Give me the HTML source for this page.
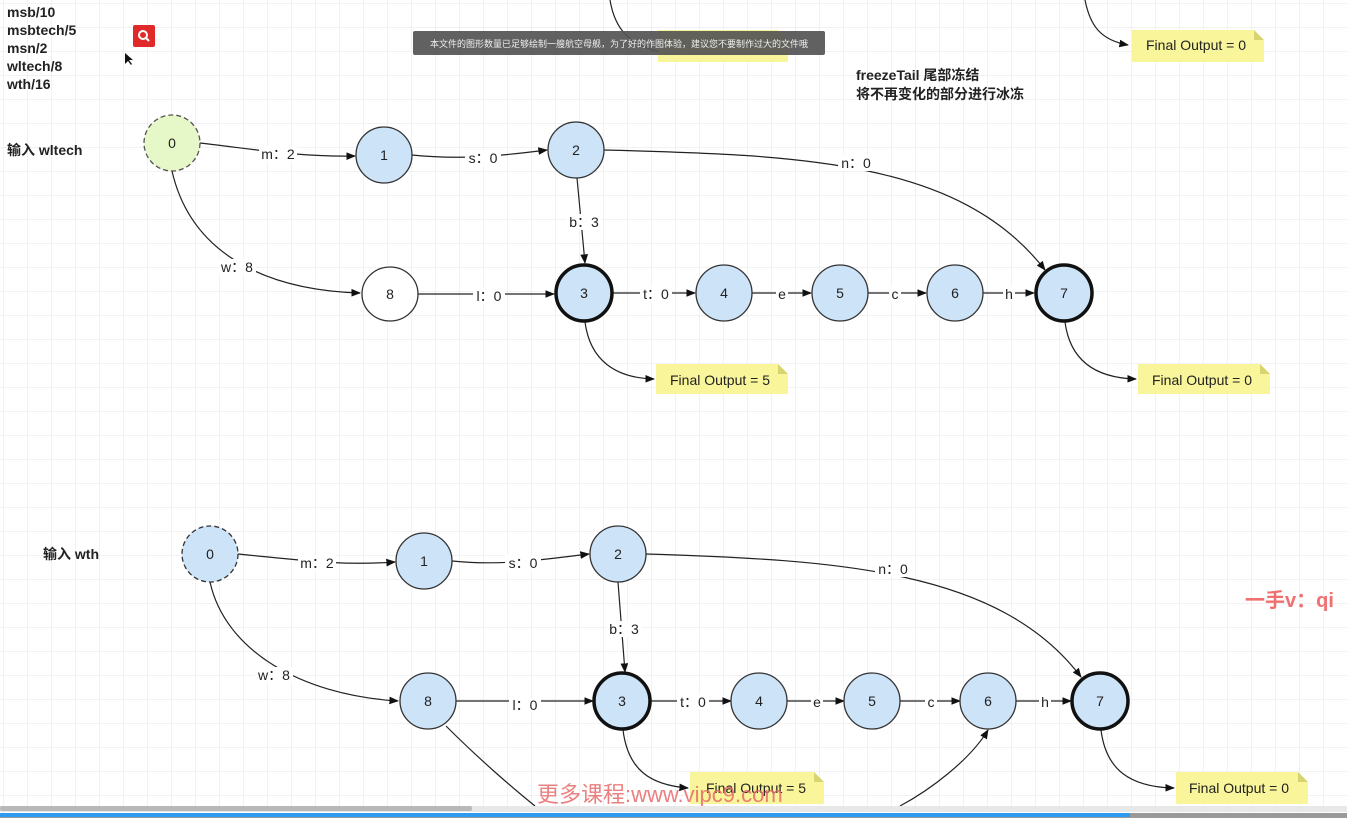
<!DOCTYPE html>
<html><head><meta charset="utf-8"><style>
html,body{margin:0;padding:0;width:1347px;height:818px;overflow:hidden;background:#fff}
svg{display:block}
text{font-family:"Liberation Sans","Noto Sans CJK SC",sans-serif;fill:#222}
</style></head><body>
<svg width="1347" height="818" viewBox="0 0 1347 818" xmlns="http://www.w3.org/2000/svg">
<defs>
<pattern id="g" width="24" height="24" patternUnits="userSpaceOnUse" x="4" y="4">
<path d="M24 0V24M0 24H24" fill="none" stroke="#e6e6e6" stroke-width="1"/>
</pattern>
<marker id="a" viewBox="0 0 10 10" refX="9" refY="5" markerWidth="8" markerHeight="8" orient="auto"><path d="M0 1L10 5L0 9z" fill="#111"/></marker>
</defs>
<rect width="1347" height="818" fill="url(#g)"/>
<g fill="none" stroke="#222" stroke-width="1.2">
<!-- top partial curves -->
<path d="M610 0C615 30 630 45 660 52"/>
<path d="M1085 0C1090 25 1100 40 1128 45" marker-end="url(#a)"/>
<!-- top diagram -->
<path d="M200 143C260 150 300 157 355 156" marker-end="url(#a)"/>
<path d="M412 155C460 160 500 156 547 150" marker-end="url(#a)"/>
<path d="M604 150C800 155 960 160 1045 270" marker-end="url(#a)"/>
<path d="M577 178L585 263" marker-end="url(#a)"/>
<path d="M172 171C190 250 260 290 360 293" marker-end="url(#a)"/>
<path d="M418 294L554 294" marker-end="url(#a)"/>
<path d="M613 293L695 293" marker-end="url(#a)"/>
<path d="M752 293L811 293" marker-end="url(#a)"/>
<path d="M868 293L926 293" marker-end="url(#a)"/>
<path d="M983 293L1034 293" marker-end="url(#a)"/>
<path d="M585 322C590 360 615 378 654 379" marker-end="url(#a)"/>
<path d="M1065 322C1070 360 1095 378 1136 379" marker-end="url(#a)"/>
<!-- bottom diagram -->
<path d="M238 554C300 560 340 566 395 562" marker-end="url(#a)"/>
<path d="M452 561C500 566 540 560 589 554" marker-end="url(#a)"/>
<path d="M646 554C840 560 1000 570 1081 677" marker-end="url(#a)"/>
<path d="M618 582L625 672" marker-end="url(#a)"/>
<path d="M210 582C225 650 300 695 398 701" marker-end="url(#a)"/>
<path d="M456 701L593 701" marker-end="url(#a)"/>
<path d="M651 701L731 701" marker-end="url(#a)"/>
<path d="M787 701L844 701" marker-end="url(#a)"/>
<path d="M900 701L960 701" marker-end="url(#a)"/>
<path d="M1016 701L1071 701" marker-end="url(#a)"/>
<path d="M623 730C628 770 650 785 688 788" marker-end="url(#a)"/>
<path d="M1101 730C1106 770 1130 787 1174 788" marker-end="url(#a)"/>
<path d="M446 726C480 760 515 790 535 806"/>
<path d="M900 806C930 790 970 760 988 730" marker-end="url(#a)"/>
</g>
<!-- edge labels -->
<g font-size="14" text-anchor="middle">
<rect x="259" y="146" width="38" height="16" fill="#fff"/><text x="278" y="159">m：2</text>
<rect x="465" y="150" width="36" height="16" fill="#fff"/><text x="483" y="163">s：0</text>
<rect x="838" y="155" width="36" height="16" fill="#fff"/><text x="856" y="168">n：0</text>
<rect x="566" y="214" width="36" height="16" fill="#fff"/><text x="584" y="227">b：3</text>
<rect x="218" y="259" width="38" height="16" fill="#fff"/><text x="237" y="272">w：8</text>
<rect x="473" y="288" width="32" height="16" fill="#fff"/><text x="489" y="301">l：0</text>
<rect x="640" y="286" width="32" height="16" fill="#fff"/><text x="656" y="299">t：0</text>
<rect x="776" y="286" width="12" height="16" fill="#fff"/><text x="782" y="299">e</text>
<rect x="889" y="286" width="12" height="16" fill="#fff"/><text x="895" y="299">c</text>
<rect x="1003" y="286" width="12" height="16" fill="#fff"/><text x="1009" y="299">h</text>
<rect x="298" y="555" width="38" height="16" fill="#fff"/><text x="317" y="568">m：2</text>
<rect x="505" y="555" width="36" height="16" fill="#fff"/><text x="523" y="568">s：0</text>
<rect x="875" y="561" width="36" height="16" fill="#fff"/><text x="893" y="574">n：0</text>
<rect x="606" y="621" width="36" height="16" fill="#fff"/><text x="624" y="634">b：3</text>
<rect x="255" y="667" width="38" height="16" fill="#fff"/><text x="274" y="680">w：8</text>
<rect x="509" y="697" width="32" height="16" fill="#fff"/><text x="525" y="710">l：0</text>
<rect x="677" y="694" width="32" height="16" fill="#fff"/><text x="693" y="707">t：0</text>
<rect x="811" y="694" width="12" height="16" fill="#fff"/><text x="817" y="707">e</text>
<rect x="925" y="694" width="12" height="16" fill="#fff"/><text x="931" y="707">c</text>
<rect x="1039" y="694" width="12" height="16" fill="#fff"/><text x="1045" y="707">h</text>
</g>
<!-- nodes -->
<g font-size="14" text-anchor="middle">
<ellipse cx="172" cy="143" rx="28" ry="28" fill="#e6f7c8" stroke="#555" stroke-width="1.3" stroke-dasharray="5,3"/><text x="172" y="148">0</text>
<ellipse cx="384" cy="155" rx="28" ry="28" fill="#cde3f8" stroke="#333" stroke-width="1.3"/><text x="384" y="160">1</text>
<ellipse cx="576" cy="150" rx="28" ry="28" fill="#cde3f8" stroke="#333" stroke-width="1.3"/><text x="576" y="155">2</text>
<ellipse cx="390" cy="294" rx="28" ry="27" fill="#fff" stroke="#333" stroke-width="1.3"/><text x="390" y="299">8</text>
<ellipse cx="584" cy="293" rx="28" ry="28" fill="#cde3f8" stroke="#111" stroke-width="3.5"/><text x="584" y="298">3</text>
<ellipse cx="724" cy="293" rx="28" ry="28" fill="#cde3f8" stroke="#333" stroke-width="1.3"/><text x="724" y="298">4</text>
<ellipse cx="840" cy="293" rx="28" ry="28" fill="#cde3f8" stroke="#333" stroke-width="1.3"/><text x="840" y="298">5</text>
<ellipse cx="955" cy="293" rx="28" ry="28" fill="#cde3f8" stroke="#333" stroke-width="1.3"/><text x="955" y="298">6</text>
<ellipse cx="1064" cy="293" rx="28" ry="28" fill="#cde3f8" stroke="#111" stroke-width="3.5"/><text x="1064" y="298">7</text>
<ellipse cx="210" cy="554" rx="28" ry="28" fill="#cde3f8" stroke="#333" stroke-width="1.3" stroke-dasharray="5,3"/><text x="210" y="559">0</text>
<ellipse cx="424" cy="561" rx="28" ry="28" fill="#cde3f8" stroke="#333" stroke-width="1.3"/><text x="424" y="566">1</text>
<ellipse cx="618" cy="554" rx="28" ry="28" fill="#cde3f8" stroke="#333" stroke-width="1.3"/><text x="618" y="559">2</text>
<ellipse cx="428" cy="701" rx="28" ry="28" fill="#cde3f8" stroke="#333" stroke-width="1.3"/><text x="428" y="706">8</text>
<ellipse cx="622" cy="701" rx="28" ry="28" fill="#cde3f8" stroke="#111" stroke-width="3.5"/><text x="622" y="706">3</text>
<ellipse cx="759" cy="701" rx="28" ry="28" fill="#cde3f8" stroke="#333" stroke-width="1.3"/><text x="759" y="706">4</text>
<ellipse cx="872" cy="701" rx="28" ry="28" fill="#cde3f8" stroke="#333" stroke-width="1.3"/><text x="872" y="706">5</text>
<ellipse cx="988" cy="701" rx="28" ry="28" fill="#cde3f8" stroke="#333" stroke-width="1.3"/><text x="988" y="706">6</text>
<ellipse cx="1100" cy="701" rx="28" ry="28" fill="#cde3f8" stroke="#111" stroke-width="3.5"/><text x="1100" y="706">7</text>
</g>
<!-- notes -->
<g font-size="14">
<path d="M658 30h120l10 10v22h-130z" fill="#f8f59a"/>
<path d="M1132 30h122l10 10v22h-132z" fill="#f8f59a"/><path d="M1254 30l10 10h-10z" fill="#d8d470"/><text x="1146" y="50">Final Output = 0</text>
<path d="M656 364h122l10 10v20h-132z" fill="#f8f59a"/><path d="M778 364l10 10h-10z" fill="#d8d470"/><text x="670" y="385">Final Output = 5</text>
<path d="M1138 364h122l10 10v20h-132z" fill="#f8f59a"/><path d="M1260 364l10 10h-10z" fill="#d8d470"/><text x="1152" y="385">Final Output = 0</text>
<path d="M690 772h124l10 10v22h-134z" fill="#f8f59a"/><path d="M814 772l10 10h-10z" fill="#d8d470"/><text x="706" y="793">Final Output = 5</text>
<path d="M1176 772h122l10 10v22h-132z" fill="#f8f59a"/><path d="M1298 772l10 10h-10z" fill="#d8d470"/><text x="1189" y="793">Final Output = 0</text>
</g>
<!-- left text -->
<g font-size="14" font-weight="bold">
<text x="7" y="17">msb/10</text>
<text x="7" y="35">msbtech/5</text>
<text x="7" y="53">msn/2</text>
<text x="7" y="71">wltech/8</text>
<text x="7" y="89">wth/16</text>
<text x="7" y="155">输入 wltech</text>
<text x="43" y="559">输入 wth</text>
<text x="856" y="80">freezeTail 尾部冻结</text>
<text x="856" y="99">将不再变化的部分进行冰冻</text>
</g>
<rect x="133" y="25" width="22" height="22" rx="2" fill="#e02a2a"/>
<circle cx="143" cy="35" r="4" fill="none" stroke="#fff" stroke-width="2"/><path d="M146 38l3 3" stroke="#fff" stroke-width="2"/>
<path d="M125 53l0 11l3-3l3 4l1-1l-3-4l4 0z" fill="#111"/>
<!-- toast -->
<rect x="413" y="31" width="412" height="24" rx="2" fill="#555" opacity="0.93"/>
<text x="619" y="47" font-size="9" fill="#eee" text-anchor="middle" style="fill:#eee">本文件的图形数量已足够绘制一艘航空母舰，为了好的作图体验，建议您不要制作过大的文件哦</text>
<!-- watermarks -->
<text x="1245" y="607" font-size="20" style="fill:#f07070" font-weight="bold">一手v：qi</text>
<text x="537" y="802" font-size="22" style="fill:#e86a6a" opacity="0.85">更多课程:www.vipc9.com</text>
<!-- scrollbars -->
<rect x="0" y="806" width="1347" height="6" fill="#e8e8e8"/>
<rect x="0" y="806" width="472" height="5" rx="2" fill="#b8b8b8"/>
<rect x="0" y="813" width="1347" height="5" fill="#9a9a9a"/>
<rect x="0" y="813" width="1130" height="4" fill="#2d9bf0"/>
</svg>
</body></html>
